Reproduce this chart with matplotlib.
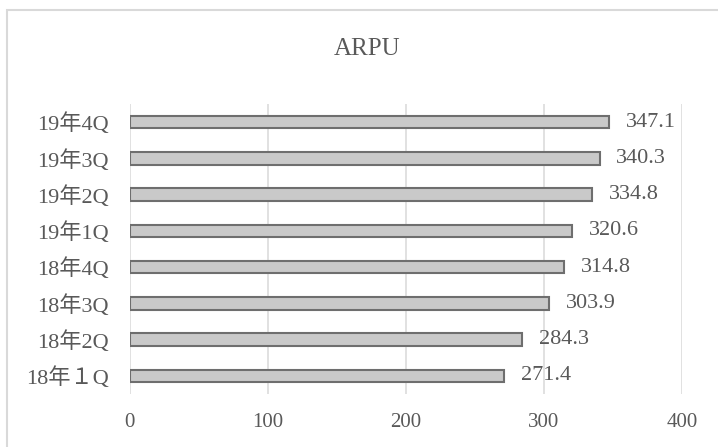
import matplotlib.pyplot as plt
from matplotlib.patches import Rectangle

plt.rcParams['font.family'] = ['Liberation Serif', 'Noto Sans CJK JP']

quarters = ['18年１Q', '18年2Q', '18年3Q', '18年4Q', '19年1Q', '19年2Q', '19年3Q', '19年4Q']
arpu = [271.4, 284.3, 303.9, 314.8, 320.6, 334.8, 340.3, 347.1]
xticks = [0, 100, 200, 300, 400]

text_color = '#595959'
grid_color = '#d9d9d9'

fig = plt.figure(figsize=(7.18, 4.47), dpi=100)
ax = fig.add_axes([0.1804, 0.1186, 0.7695, 0.6488])

pos = list(range(len(quarters)))
ax.barh(pos, arpu, height=0.34, color='#c9c9c9', edgecolor='#6e6e6e', linewidth=1.5, zorder=3)

for y, v in zip(pos, arpu):
    ax.annotate(f'{v:.1f}', xy=(v, y), xytext=(12, 0), textcoords='offset points',
                ha='left', va='center', fontsize=16, color=text_color, zorder=4)

ax.set_xlim(0, 400)
ax.set_ylim(-0.5, len(quarters) - 0.5)
ax.set_xticks(xticks)
ax.set_xticklabels([str(t) for t in xticks])
ax.set_yticks(pos)
ax.set_yticklabels(quarters)
ax.tick_params(axis='x', length=0, pad=14, labelsize=15, labelcolor=text_color)
ax.tick_params(axis='y', length=0, pad=15, labelsize=16, labelcolor=text_color)
ax.grid(axis='x', color=grid_color, linewidth=1.1, zorder=0)
ax.set_axisbelow(True)
for s in ax.spines.values():
    s.set_visible(False)

fig.text(0.511, 0.890, 'ARPU', ha='center', va='center', fontsize=18, color=text_color)

# light frame around the whole chart
fig.patches.append(Rectangle((7 / 718, -0.1), 1.2, 1.1 - 9.5 / 447, transform=fig.transFigure,
                             fill=False, edgecolor=grid_color, linewidth=1.5))

fig.savefig('out.png', dpi=100)
